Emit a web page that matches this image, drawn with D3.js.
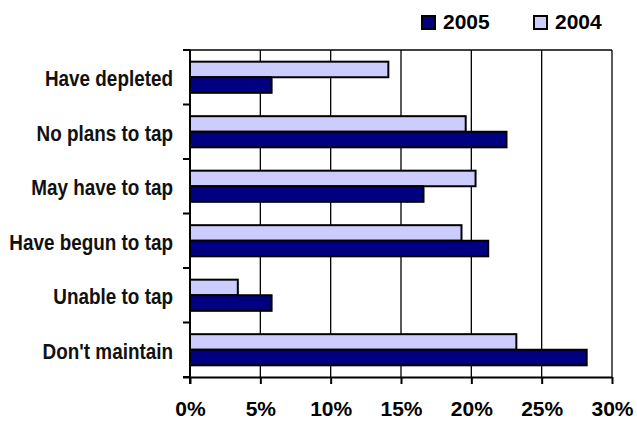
<!DOCTYPE html>
<html>
<head>
<meta charset="utf-8">
<script src="https://cdn.jsdelivr.net/npm/d3@7"></script>
<style>
  html, body { margin: 0; padding: 0; background: #fff; }
  svg { display: block; }
</style>
</head>
<body>
<svg id="chart" width="637" height="425"></svg>
<script>
const categories = ["Have depleted", "No plans to tap", "May have to tap", "Have begun to tap", "Unable to tap", "Don't maintain"];
const seriesNames = ["2004", "2005"];
const values2004 = [14.1, 19.6, 20.3, 19.3, 3.4, 23.2];
const values2005 = [5.8, 22.5, 16.6, 21.2, 5.8, 28.2];
const xTicks = [0, 5, 10, 15, 20, 25, 30];
const legendOrder = ["2005", "2004"];
const colors = { "2004": "#CCCCFF", "2005": "#000080" };

(function () {
const svg = d3.select("#chart");
const pLeft = 190, pRight = 612, pTop = 50, pBottom = 377;

const x = d3.scaleLinear().domain([0, 30]).range([pLeft, pRight]);
const y = d3.scaleBand().domain(categories).range([pTop, pBottom]).padding(0);
const ySub = d3.scaleBand().domain(seriesNames).range([0, y.bandwidth()]).paddingInner(0).paddingOuter(0.75);

const valuesBySeries = { "2004": values2004, "2005": values2005 };

// gridlines
svg.append("g").selectAll("line").data(xTicks.filter(d => d > 0)).join("line")
  .attr("x1", d => x(d)).attr("x2", d => x(d))
  .attr("y1", pTop).attr("y2", pBottom)
  .attr("stroke", "#000").attr("stroke-width", 1.3);
// top border
svg.append("line").attr("x1", pLeft).attr("x2", pRight).attr("y1", pTop).attr("y2", pTop)
  .attr("stroke", "#000").attr("stroke-width", 1.3);

// bars
const rows = [];
categories.forEach((c, i) => seriesNames.forEach(s => rows.push({ c, s, v: valuesBySeries[s][i] })));
svg.append("g").selectAll("rect").data(rows).join("rect")
  .attr("x", x(0))
  .attr("y", d => y(d.c) + ySub(d.s))
  .attr("width", d => x(d.v) - x(0))
  .attr("height", ySub.bandwidth())
  .attr("fill", d => colors[d.s])
  .attr("stroke", "#000").attr("stroke-width", 2);

// x axis
const xAxis = d3.axisBottom(x).tickValues(xTicks).tickFormat(d => d + "%").tickSize(7).tickPadding(17);
const gx = svg.append("g").attr("transform", `translate(0,${pBottom})`).call(xAxis);
gx.select(".domain").attr("stroke-width", 2).attr("d", `M${pLeft - 7},0.5H${pRight}`);
gx.selectAll(".tick line").attr("stroke-width", 2);
gx.selectAll("text").attr("font-family", "'Liberation Sans', Arial, sans-serif")
  .attr("font-weight", "bold").attr("font-size", 21).attr("fill", "#000");

// y axis: ticks at band boundaries
const boundaries = categories.map(c => y(c)).concat([pBottom]);
svg.append("line").attr("x1", pLeft).attr("x2", pLeft).attr("y1", pTop).attr("y2", pBottom + 7)
  .attr("stroke", "#000").attr("stroke-width", 2);
svg.append("g").selectAll("line").data(boundaries).join("line")
  .attr("x1", pLeft - 7).attr("x2", pLeft).attr("y1", d => d).attr("y2", d => d)
  .attr("stroke", "#000").attr("stroke-width", 2);

// category labels (condensed look via horizontal scale)
svg.append("g").selectAll("g").data(categories).join("g")
  .attr("transform", d => `translate(173,${y(d) + y.bandwidth() / 2 + 9}) scale(0.84,1)`)
  .append("text")
  .attr("x", 0).attr("y", 0)
  .attr("text-anchor", "end")
  .attr("font-family", "'Liberation Sans', Arial, sans-serif")
  .attr("font-weight", "bold").attr("font-size", 22.5).attr("fill", "#111")
  .text(d => d);

// legend
const legendX = d3.scaleOrdinal().domain(legendOrder).range([422, 534]);
const lg = svg.append("g").selectAll("g").data(legendOrder).join("g")
  .attr("transform", d => `translate(${legendX(d)},16)`);
lg.append("rect").attr("x", 0).attr("y", 0).attr("width", 13).attr("height", 13)
  .attr("fill", d => colors[d]).attr("stroke", "#000").attr("stroke-width", 2);
lg.append("text").attr("x", 21).attr("y", 13)
  .attr("font-family", "'Liberation Sans', Arial, sans-serif")
  .attr("font-weight", "bold").attr("font-size", 21).attr("fill", "#000")
  .text(d => d);
})();
</script>
</body>
</html>
